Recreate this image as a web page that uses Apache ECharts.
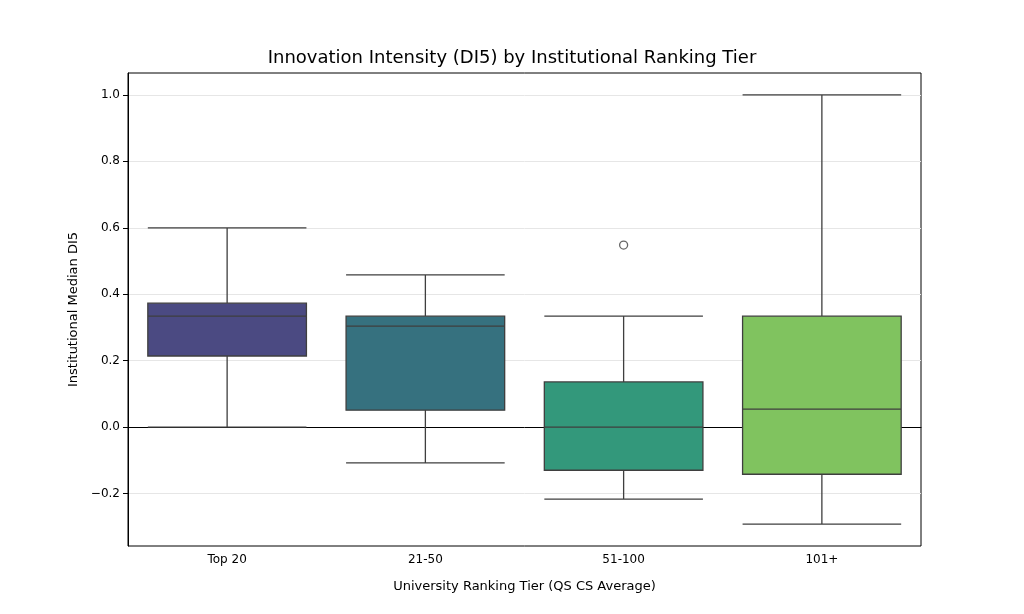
<!DOCTYPE html>
<html><head><meta charset="utf-8">
<script src="https://cdn.jsdelivr.net/npm/echarts@6/dist/echarts.min.js"></script>
</head><body style="margin:0">
<div id="main" style="width:1024px;height:614px"></div>
<script>
var tiers = ['Top 20', '21-50', '51-100', '101+'];
// [min, Q1, median, Q3, max]
var boxStats = [
    [0.0, 0.214, 0.334, 0.373, 0.600],
    [-0.108, 0.051, 0.304, 0.334, 0.458],
    [-0.217, -0.130, 0.0, 0.136, 0.334],
    [-0.292, -0.142, 0.054, 0.334, 1.0]
];
var outliers = [['51-100', 0.548]];
var boxColors = ['#4b4a82', '#36717f', '#33987b', '#80c35f'];
var yTicks = [-0.2, 0, 0.2, 0.4, 0.6, 0.8, 1.0];

var myChart = echarts.init(document.getElementById('main'));
var option = {
    animation: false,
    title: {
        text: 'Innovation Intensity (DI5) by Institutional Ranking Tier',
        left: 'center', top: 44,
        textStyle: {fontFamily: 'DejaVu Sans', fontSize: 18, fontWeight: 'normal', color: '#000'}
    },
    grid: {left: 128, right: 103, top: 73, bottom: 68, show: true, borderColor: '#000', borderWidth: 1},
    xAxis: {
        type: 'category', data: tiers,
        name: 'University Ranking Tier (QS CS Average)', nameLocation: 'middle', nameGap: 34,
        nameTextStyle: {fontFamily: 'DejaVu Sans', fontSize: 13, color: '#000'},
        axisLine: {lineStyle: {color: '#000'}},
        axisTick: {alignWithLabel: true, lineStyle: {color: '#000'}},
        axisLabel: {fontFamily: 'DejaVu Sans', fontSize: 12, color: '#000'}
    },
    yAxis: {
        type: 'value', min: -0.358, max: 1.066,
        name: 'Institutional Median DI5', nameLocation: 'middle', nameGap: 48,
        nameTextStyle: {fontFamily: 'DejaVu Sans', fontSize: 13, color: '#000'},
        axisLine: {show: true, lineStyle: {color: '#000'}},
        axisTick: {show: true, customValues: yTicks, lineStyle: {color: '#000'}},
        axisLabel: {customValues: yTicks, fontFamily: 'DejaVu Sans', fontSize: 12, color: '#000',
            formatter: function (v) { return v.toFixed(1).replace('-', '\u2212'); }},
        splitLine: {show: true, lineStyle: {color: '#e6e6e6'}}
    },
    series: [{
        type: 'boxplot',
        boxWidth: ['80%', '80%'],
        data: boxStats.map(function (s, i) {
            return {value: s, itemStyle: {color: boxColors[i], borderColor: '#3f3f3f', borderWidth: 1.3}};
        })
    }, {
        type: 'scatter', data: outliers, symbol: 'circle', symbolSize: 8,
        itemStyle: {color: '#fff', borderColor: '#3f3f3f', borderWidth: 1.3}
    }]
};
myChart.setOption(option);
</script>
</body></html>
